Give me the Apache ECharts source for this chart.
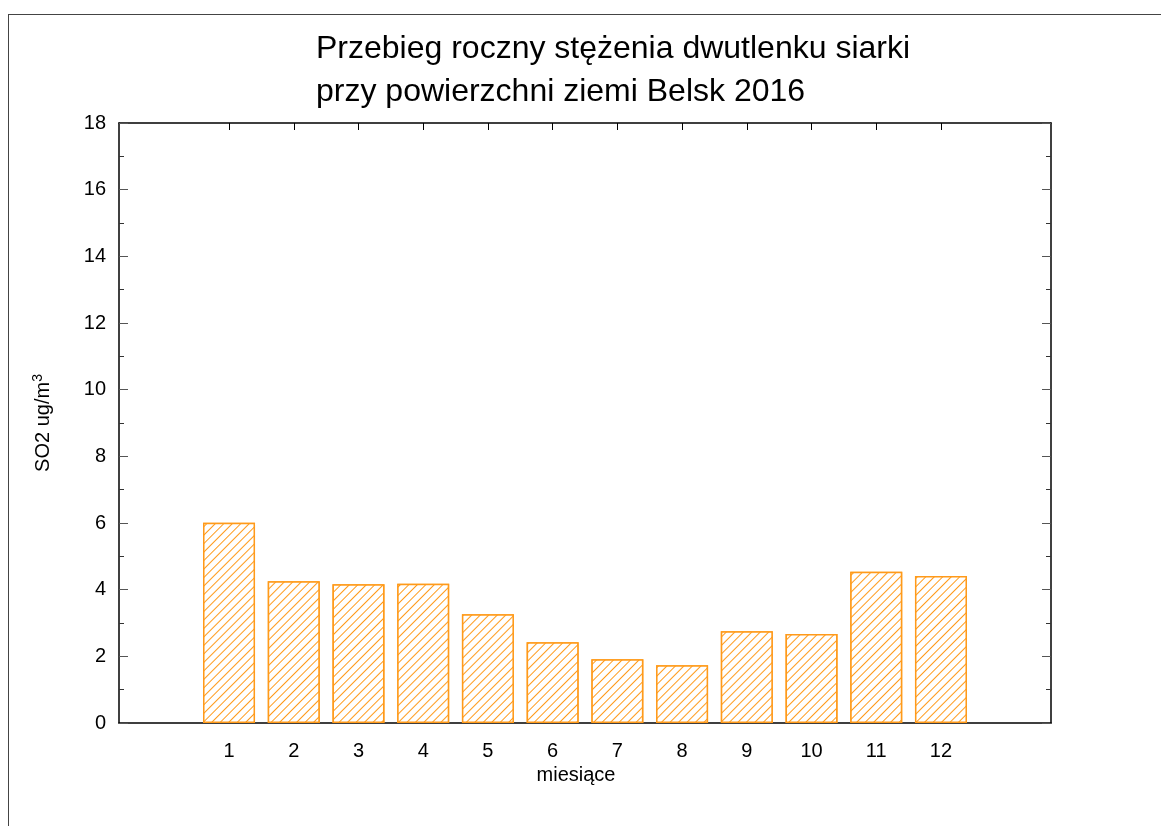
<!DOCTYPE html>
<html>
<head>
<meta charset="utf-8">
<script src="https://cdn.jsdelivr.net/npm/echarts@6/dist/echarts.min.js"></script>
<style>
  html, body { margin: 0; padding: 0; background: #fff; }
  #frame { position: absolute; left: 8px; top: 14px; right: -2px; bottom: -2px; border-left: 1px solid #444; border-top: 1px solid #444; }
  #chart { position: absolute; left: 0; top: 0; width: 1161px; height: 826px; }
</style>
</head>
<body>
<div id="frame"></div>
<div id="chart"></div>
<script>
// miesiące i stężenia SO2
const months = [1, 2, 3, 4, 5, 6, 7, 8, 9, 10, 11, 12]
const so2 = [6.01, 4.25, 4.16, 4.18, 3.26, 2.42, 1.91, 1.73, 2.75, 2.67, 4.54, 4.41]
const yTicks = [0, 2, 4, 6, 8, 10, 12, 14, 16, 18]

const orange = '#ff9a1a'

var myChart = echarts.init(document.getElementById('chart'))
const font = 'Liberation Sans, Arial, sans-serif'
const axisLine = { show: true, onZero: false, lineStyle: { color: '#000', width: 1.5 } }

var option = {
  animation: false,
  textStyle: { fontFamily: font },
  title: {
    text: 'Przebieg roczny stężenia dwutlenku siarki\nprzy powierzchni ziemi Belsk 2016',
    left: 316,
    top: 28,
    padding: 0,
    textStyle: { fontSize: 32, fontWeight: 'normal', color: '#000', lineHeight: 43, fontFamily: font }
  },
  grid: { left: 119, right: 110, top: 123, bottom: 103 },
  xAxis: [
    {
      type: 'value',
      min: -0.7,
      max: 13.7,
      position: 'bottom',
      name: 'miesiące',
      nameLocation: 'middle',
      nameGap: 42,
      nameTextStyle: { fontSize: 20, color: '#000', padding: [0, 18, 0, 0] },
      axisLine: axisLine,
      axisTick: { inside: true, length: 7, customValues: months, lineStyle: { color: '#000' } },
      axisLabel: { customValues: months, fontSize: 20, color: '#000', margin: 18 },
      splitLine: { show: false }
    },
    {
      type: 'value',
      min: -0.7,
      max: 13.7,
      position: 'top',
      axisLine: axisLine,
      axisTick: { inside: true, length: 7, customValues: months, lineStyle: { color: '#000' } },
      axisLabel: { show: false },
      splitLine: { show: false }
    }
  ],
  yAxis: [
    {
      type: 'value',
      min: 0,
      max: 18,
      interval: 2,
      position: 'left',
      name: 'SO2 ug/m{sup|3}',
      nameLocation: 'middle',
      nameGap: 64,
      nameTextStyle: {
        fontSize: 20,
        color: '#000',
        rich: { sup: { fontSize: 14, color: '#000', verticalAlign: 'top', padding: [0, 0, 10, 0] } }
      },
      axisLine: axisLine,
      axisTick: { inside: true, length: 9, lineStyle: { color: '#555' } },
      minorTick: { show: true, splitNumber: 2, length: 5, lineStyle: { color: '#333' } },
      axisLabel: { fontSize: 20, color: '#000', margin: 13, customValues: yTicks },
      splitLine: { show: false }
    },
    {
      type: 'value',
      min: 0,
      max: 18,
      interval: 2,
      position: 'right',
      axisLine: axisLine,
      axisTick: { inside: true, length: 9, lineStyle: { color: '#555' } },
      minorTick: { show: true, splitNumber: 2, length: 5, lineStyle: { color: '#333' } },
      axisLabel: { show: false },
      splitLine: { show: false }
    }
  ],
  series: [
    {
      type: 'bar',
      xAxisIndex: 0,
      yAxisIndex: 0,
      barWidth: 52,
      data: months.map((m, i) => [m, so2[i]]),
      itemStyle: {
        color: '#ffffff',
        borderColor: orange,
        borderWidth: 1.5,
        // kreskowanie ukośne "/"
        decal: {
          symbol: 'rect',
          symbolSize: 1,
          color: orange,
          backgroundColor: '#ffffff',
          dashArrayX: [1, 0],
          dashArrayY: [1, 5],
          rotation: -Math.PI / 4
        }
      }
    }
  ]
}
myChart.setOption(option)
</script>
</body>
</html>
